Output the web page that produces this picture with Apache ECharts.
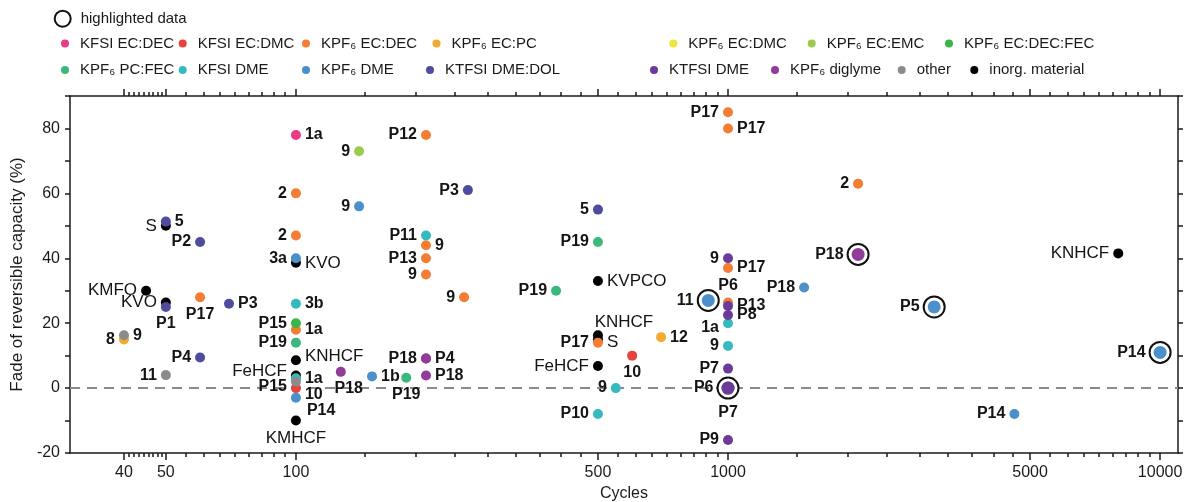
<!DOCTYPE html>
<html><head><meta charset="utf-8">
<script src="https://cdn.jsdelivr.net/npm/echarts@6/dist/echarts.min.js"></script>
<style>html,body{margin:0;padding:0;background:#fff}#c{width:1184px;height:502px}</style>
</head><body><div id="c"></div>
<script>
// ---------------- data ----------------
// each entry: [cycles, fade of reversible capacity (%), label]
const kfsiEcDec    = [[100, 78, '1a']];
const kfsiEcDmc    = [[100, 0, '10'], [600, 10, '10']];
const kpf6EcDec    = [[60, 28, 'P17'], [100, 60, '2'], [100, 47, '2'], [100, 18, '1a'], [200, 78, 'P12'], [200, 44, '9'], [200, 40, 'P13'], [200, 35, '9'], [245, 28, '9'], [500, 14, 'P17'], [1000, 85, 'P17'], [1000, 80, 'P17'], [1000, 37, 'P17'], [1000, 26.4, 'P6'], [2000, 63, '2']];
const kpf6EcPc     = [[40, 15, '8'], [700, 15.7, '12']];
const kpf6EcDmc    = [];
const kpf6EcEmc    = [[140, 73, '9']];
const kpf6EcDecFec = [[100, 20, 'P15']];
const kpf6PcFec    = [[100, 14, 'P19'], [180, 3.2, 'P19'], [400, 30, 'P19'], [500, 45, 'P19']];
const kfsiDme      = [[100, 26, '3b'], [100, 3, '1a'], [200, 47, 'P11'], [500, -8, 'P10'], [550, 0, '9'], [1000, 20, '1a'], [1000, 13, '9']];
const kpf6Dme      = [[100, 40, '3a'], [100, -3, 'P14'], [140, 56, '9'], [150, 3.6, '1b'], [900, 27, '11'], [1500, 31, 'P18'], [3000, 25, 'P5'], [4600, -8, 'P14'], [10000, 11, 'P14']];
const ktfsiDmeDol  = [[50, 51.3, '5'], [50, 25, 'P1'], [60, 45, 'P2'], [60, 9.4, 'P4'], [70, 26, 'P3'], [200, 9.1, 'P4'], [250, 61, 'P3'], [500, 55, '5']];
const ktfsiDme     = [[1000, 40, '9'], [1000, 25.3, 'P13'], [1000, 22.5, 'P8'], [1000, 6, 'P7'], [1000, 0, 'P7'], [1000, 0, 'P6'], [1000, -16, 'P9']];
const kpf6Diglyme  = [[127, 5, 'P18'], [200, 9.1, 'P18'], [200, 3.9, 'P18'], [2000, 41.2, 'P18']];
const other        = [[40, 16.3, '9'], [50, 4, '11'], [100, 2, 'P15']];
const inorganic    = [[45, 30, 'KMFO'], [50, 26.4, 'KVO'], [50, 50, 'S'], [100, 38.6, 'KVO'], [100, 8.6, 'KNHCF'], [100, 3.9, 'FeHCF'], [100, -10, 'KMHCF'], [500, 33, 'KVPCO'], [500, 16.3, 'KNHCF'], [500, 15, 'S'], [500, 6.8, 'FeHCF'], [8000, 41.5, 'KNHCF']];
const highlighted  = [[900, 27], [1000, 0], [2000, 41.2], [3000, 25], [10000, 11]];

const seriesNames = ['KFSI EC:DEC', 'KFSI EC:DMC', 'KPF₆ EC:DEC', 'KPF₆ EC:PC', 'KPF₆ EC:DMC', 'KPF₆ EC:EMC', 'KPF₆ EC:DEC:FEC', 'KPF₆ PC:FEC', 'KFSI DME', 'KPF₆ DME', 'KTFSI DME:DOL', 'KTFSI DME', 'KPF₆ diglyme', 'other', 'inorg. material'];
const seriesData  = [kfsiEcDec, kfsiEcDmc, kpf6EcDec, kpf6EcPc, kpf6EcDmc, kpf6EcEmc, kpf6EcDecFec, kpf6PcFec, kfsiDme, kpf6Dme, ktfsiDmeDol, ktfsiDme, kpf6Diglyme, other, inorganic];
const highlightName = 'highlighted data';
const xTickLabels = [40, 50, 100, 500, 1000, 5000, 10000];
const yTickLabels = [-20, 0, 20, 40, 60, 80];

// ---------------- styling / layout ----------------
const FONT = '"Liberation Sans", Arial, Helvetica, sans-serif';
const palette = ['#ec3a84', '#e8423b', '#f47d33', '#f2ab30', '#ece63a', '#9acb4d', '#3ab54a', '#3bb97c', '#35babd', '#4b8fcb', '#4f4c9d', '#6b3b97', '#923b98', '#8b8b8b', '#000000'];
// label placement per point: 'l','r','t','b' or [pos, dx, dy]
const placements = [
  ['r'],
  [['r', 0, 7], 'b'],
  ['b', 'l', 'l', 'r', 'l', 'r', 'l', 'l', 'l', 'l', 'l', 'r', 'r', 't', 'l'],
  ['l', 'r'],
  [],
  ['l'],
  ['l'],
  ['l', 'b', 'l', 'l'],
  ['r', 'r', 'l', 'l', 'l', ['l', 0, 4], 'l'],
  ['l', ['r', 2, 13], 'l', 'r', 'l', 'l', 'l', 'l', 'l'],
  ['r', 'b', 'l', 'l', 'r', 'r', 'l', 'l'],
  ['l', 'r', 'r', 'l', 'b', 'l', 'l'],
  [['b', 8, 0], 'l', 'r', 'l'],
  ['r', 'l', ['l', 0, 5]],
  ['l', 'l', 'l', 'r', ['r', 0, -4], ['l', 0, -4], 'b', 'r', ['t', 26, 5], ['r', 0, 3], 'l', 'l']
];
const legendSpots = [ // [name, dot centre x, dot centre y]
  [highlightName, 61.7, 17.7],
  ['KFSI EC:DEC', 65, 43.5], ['KFSI EC:DMC', 182.7, 43.5], ['KPF₆ EC:DEC', 306, 43.5], ['KPF₆ EC:PC', 436.5, 43.5],
  ['KPF₆ EC:DMC', 673.3, 43.5], ['KPF₆ EC:EMC', 811.7, 43.5], ['KPF₆ EC:DEC:FEC', 949, 43.5],
  ['KPF₆ PC:FEC', 65, 70], ['KFSI DME', 182.7, 70], ['KPF₆ DME', 306, 70], ['KTFSI DME:DOL', 430, 70],
  ['KTFSI DME', 654, 70], ['KPF₆ diglyme', 775, 70], ['other', 901.7, 70], ['inorg. material', 974.3, 70]
];

// minor ticks: 8 evenly spaced ticks between neighbouring labelled ticks
const xMinorTicks = [];
for (let i = 0; i < xTickLabels.length - 1; i++) {
  const a = xTickLabels[i], b = xTickLabels[i + 1];
  for (let k = 1; k <= 8; k++) xMinorTicks.push(a + k * (b - a) / 9);
}
const X_MIN = 30, X_MAX = 11000, Y_MIN = -20, Y_MAX = 90;

const isHighlighted = (x, y) => highlighted.some(h => h[0] === x && h[1] === y);
const posMap = { l: 'left', r: 'right', t: 'top', b: 'bottom' };

const chart = echarts.init(document.getElementById('c'), null, { renderer: 'canvas' });

const series = [];
series.push({
  name: highlightName, type: 'scatter', z: 10,
  data: highlighted.map(h => [h[0], h[1]]),
  symbol: 'circle', symbolSize: 21,
  itemStyle: { color: '#ffffff', borderColor: '#111111', borderWidth: 2, opacity: 1 },
  emphasis: { disabled: true }, silent: true,
  markLine: {
    silent: true, symbol: 'none', z: 3,
    label: { show: false },
    lineStyle: { color: '#8a8a8a', width: 1.8, type: [10, 7] },
    emphasis: { disabled: true },
    data: [{ yAxis: 0 }]
  }
});

const order = [14].concat(seriesNames.map((_, i) => i).filter(i => i !== 14));
order.forEach(i => {
  const inorg = i === 14;
  series.push({
    name: seriesNames[i], type: 'scatter', z: 10,
    symbol: 'circle',
    symbolSize: (v) => isHighlighted(v[0], v[1]) ? 13 : 10,
    itemStyle: { color: palette[i], opacity: 1 },
    emphasis: { disabled: true },
    label: {
      show: true, formatter: '{b}', color: '#141414',
      fontFamily: FONT, fontSize: inorg ? 17 : 16, fontWeight: inorg ? 'normal' : 'bold'
    },
    data: seriesData[i].map((p, j) => {
      const pl = placements[i][j] || 'r';
      const [pos, dx, dy] = Array.isArray(pl) ? pl : [pl, 0, 0];
      const hl = isHighlighted(p[0], p[1]);
      return {
        value: [p[0], p[1]], name: p[2],
        label: { position: posMap[pos], offset: [dx, dy], distance: hl ? (pos === 'b' ? 10 : 8) : 4 }
      };
    })
  });
});

const legends = legendSpots.map(([name, cx, cy]) => {
  const big = name === highlightName;
  const w = big ? 16 : 8;
  const idx = seriesNames.indexOf(name);
  return {
    data: [name], left: cx - w / 2, top: cy - 8, padding: 0,
    itemWidth: w, itemHeight: w, icon: 'circle', selectedMode: false,
    textStyle: { fontFamily: FONT, fontSize: 15, color: '#1a1a1a', lineHeight: 16, padding: [0, 0, 0, big ? 5 : 6] },
    itemStyle: big ? { color: '#ffffff', borderColor: '#111', borderWidth: 2 }
                   : { color: palette[idx], borderWidth: 0 }
  };
});

const axisLineStyle = { color: '#1a1a1a', width: 1.5 };
const baseX = { type: 'log', logBase: 10, min: X_MIN, max: X_MAX, splitLine: { show: false }, minorTick: { show: false } };

const option = {
  animation: false,
  backgroundColor: '#ffffff',
  textStyle: { fontFamily: FONT },
  legend: legends,
  grid: { left: 70, right: 6, top: 96, bottom: 49, containLabel: false, outerBoundsMode: 'none' },
  xAxis: [
    Object.assign({}, baseX, {
      position: 'bottom',
      name: 'Cycles', nameLocation: 'middle', nameGap: 33,
      nameTextStyle: { fontFamily: FONT, fontSize: 16, color: '#1a1a1a' },
      axisLine: { show: true, onZero: false, lineStyle: axisLineStyle },
      axisTick: { show: true, inside: false, length: 7, customValues: xTickLabels, lineStyle: axisLineStyle },
      axisLabel: { show: true, customValues: xTickLabels, margin: 12, fontFamily: FONT, fontSize: 16, color: '#1a1a1a',
        formatter: v => String(Math.round(v)) }
    }),
    Object.assign({}, baseX, {
      position: 'bottom',
      axisLine: { show: false, onZero: false },
      axisTick: { show: true, inside: false, length: 4, customValues: xMinorTicks, lineStyle: axisLineStyle },
      axisLabel: { show: false }
    }),
    Object.assign({}, baseX, {
      position: 'top',
      axisLine: { show: true, onZero: false, lineStyle: axisLineStyle },
      axisTick: { show: true, inside: false, length: 7, customValues: xTickLabels, lineStyle: axisLineStyle },
      axisLabel: { show: false }
    }),
    Object.assign({}, baseX, {
      position: 'top',
      axisLine: { show: false, onZero: false },
      axisTick: { show: true, inside: false, length: 4, customValues: xMinorTicks, lineStyle: axisLineStyle },
      axisLabel: { show: false }
    })
  ],
  yAxis: [
    {
      type: 'value', min: Y_MIN, max: Y_MAX, interval: 10, position: 'left',
      name: 'Fade of reversible capacity (%)', nameLocation: 'middle', nameGap: 42, nameRotate: 90,
      nameTextStyle: { fontFamily: FONT, fontSize: 17, color: '#1a1a1a' },
      splitLine: { show: false },
      axisLine: { show: true, onZero: false, lineStyle: axisLineStyle },
      axisTick: { show: true, inside: false, length: 5, lineStyle: axisLineStyle },
      axisLabel: { margin: 10, fontFamily: FONT, fontSize: 16, color: '#1a1a1a',
        formatter: v => yTickLabels.indexOf(v) >= 0 ? String(v) : '' }
    },
    {
      type: 'value', min: Y_MIN, max: Y_MAX, interval: 10, position: 'right',
      splitLine: { show: false },
      axisLine: { show: true, onZero: false, lineStyle: axisLineStyle },
      axisTick: { show: true, inside: false, length: 5, lineStyle: axisLineStyle },
      axisLabel: { show: false }
    }
  ],
  series: series
};
chart.setOption(option);
</script>
</body></html>
